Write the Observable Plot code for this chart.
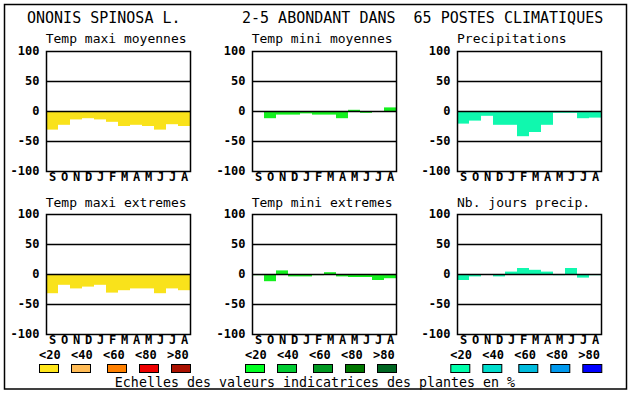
<!DOCTYPE html>
<html>
<head>
<meta charset="utf-8">
<script src="https://cdn.jsdelivr.net/npm/d3@7"></script>
<script src="https://cdn.jsdelivr.net/npm/@observablehq/plot@0.6"></script>
<style>
  html, body { margin: 0; padding: 0; background: #fff; }
  #root { position: relative; width: 630px; height: 394px; overflow: hidden; }
  #root svg { position: absolute; }
</style>
</head>
<body>
<div id="root"></div>
<script>
// ---- data ----
const months = ["S","O","N","D","J","F","M","A","M","J","J","A"];
const tempMaxiMoyennes = [-31,-23,-14,-12,-14,-18,-25,-23,-25,-31,-22,-25];
const tempMiniMoyennes = [0,-12,-6,-6,-4,-6,-6,-12,2,-3,0,6];
const precipitations   = [-21,-16,-8,-23,-23,-42,-35,-23,-3,-3,-12,-11];
const tempMaxiExtremes = [-32,-18,-24,-21,-18,-31,-27,-24,-24,-32,-24,-27];
const tempMiniExtremes = [-2,-12,6,-4,-4,-2,3,-4,-5,-5,-10,-7];
const nbJoursPrecip    = [-10,-4,0,-4,4,10,7,4,-2,10,-6,-2];
const yTicks = [-100,-50,0,50,100];
const gridValues = [-50,0,50];
const legendLabels = ["<20","<40","<60","<80",">80"];
const warmScale  = ["#FFE61A","#FFBB55","#FF8000","#EE0000","#AA1100"];
const greenScale = ["#00FF22","#00CC33","#009922","#007700","#006622"];
const blueScale  = ["#00FFAA","#00DDCC","#00BBDD","#0099EE","#0000FF"];
const titleLeft = "ONONIS SPINOSA L.";
const titleRight = "2-5 ABONDANT DANS  65 POSTES CLIMATIQUES";
const footer = "Echelles des valeurs indicatrices des plantes en %";

const panels = [
  {title: "Temp maxi moyennes", values: tempMaxiMoyennes, col: 0, row: 0, color: "#F9E21B"},
  {title: "Temp mini moyennes", values: tempMiniMoyennes, col: 1, row: 0, color: "#14F01E"},
  {title: "Precipitations",     values: precipitations,   col: 2, row: 0, color: "#10F8AE"},
  {title: "Temp maxi extremes", values: tempMaxiExtremes, col: 0, row: 1, color: "#F9E21B"},
  {title: "Temp mini extremes", values: tempMiniExtremes, col: 1, row: 1, color: "#14F01E"},
  {title: "Nb. jours precip.",  values: nbJoursPrecip,    col: 2, row: 1, color: "#10F8AE"}
];
const legends = [
  {col: 0, colors: warmScale},
  {col: 1, colors: greenScale},
  {col: 2, colors: blueScale}
];

// ---- layout ----
const frameLefts = [45.7, 251.7, 457];
const frameTops = [50.5, 214.3];
const titleBaselines = [43, 206.5];
const FW = 144, FH = 120;
const ML = 40, MR = 3, MT = 3, MB = 16;

const root = document.getElementById("root");
const mono = "'DejaVu Sans Mono', 'Liberation Mono', monospace";

// background overlay (text, legend, border)
const W = 630, H = 394;
const bg = d3.create("svg").attr("width", W).attr("height", H)
  .style("left", "0px").style("top", "0px")
  .attr("font-family", mono);
bg.append("rect").attr("x", 4.5).attr("y", 4.5).attr("width", 622).attr("height", 384.5)
  .attr("fill", "none").attr("stroke", "black").attr("stroke-width", 1.5);
bg.append("text").attr("x", 27).attr("y", 23).attr("font-size", 15).text(titleLeft);
bg.append("text").attr("x", 242).attr("y", 23).attr("font-size", 15)
  .attr("xml:space", "preserve").style("white-space", "pre").text(titleRight);
for (const p of panels) {
  bg.append("text").attr("x", frameLefts[p.col]).attr("y", titleBaselines[p.row])
    .attr("font-size", 13).text(p.title);
}
const labelOffsets = [-6.7, 25.3, 57.3, 89.3, 121.3];
const swatchOffsets = [-6.7, 25.3, 61.3, 93.3, 125.3];
for (const L of legends) {
  const x0 = frameLefts[L.col];
  legendLabels.forEach((lab, k) => {
    bg.append("text").attr("x", x0 + labelOffsets[k]).attr("y", 358.5)
      .attr("font-size", 12).attr("font-weight", "bold").text(lab);
    bg.append("rect").attr("x", x0 + swatchOffsets[k] + 0.5).attr("y", 364.5)
      .attr("width", 19).attr("height", 8)
      .attr("fill", L.colors[k]).attr("stroke", "black").attr("stroke-width", 1);
  });
}
bg.append("text").attr("x", 315).attr("y", 387).attr("text-anchor", "middle")
  .attr("font-size", 13.3).text(footer);
root.appendChild(bg.node());

// ---- panels ----
for (const p of panels) {
  const data = p.values.map((v, i) => ({i, v}));
  const chart = Plot.plot({
    width: ML + FW + MR,
    height: MT + FH + MB,
    marginLeft: ML, marginRight: MR, marginTop: MT, marginBottom: MB,
    style: {fontFamily: mono, fontSize: "12px", fontWeight: "bold", background: "transparent", overflow: "visible", color: "black"},
    x: {type: "band", domain: d3.range(12), padding: 0, tickFormat: i => months[i], tickSize: 0, tickPadding: 1, label: null},
    y: {domain: [-100, 100], ticks: yTicks, tickFormat: d => String(d), tickSize: 0, tickPadding: 7, label: null},
    marks: [
      Plot.barY(data, {x: "i", y: "v", fill: p.color, inset: 0}),
      Plot.ruleY(gridValues, {stroke: "black", strokeWidth: 1.3}),
      Plot.frame({stroke: "black", strokeWidth: 1.5}),
      Plot.axisX({tickSize: 0, tickPadding: 1, tickFormat: i => months[i], label: null, fill: "black"}),
      Plot.axisY({ticks: yTicks, tickSize: 0, tickPadding: 7, tickFormat: d => String(d), label: null, fill: "black"})
    ]
  });
  chart.style.left = (frameLefts[p.col] - ML) + "px";
  chart.style.top = (frameTops[p.row] - MT) + "px";
  root.appendChild(chart);
}
</script>
</body>
</html>
